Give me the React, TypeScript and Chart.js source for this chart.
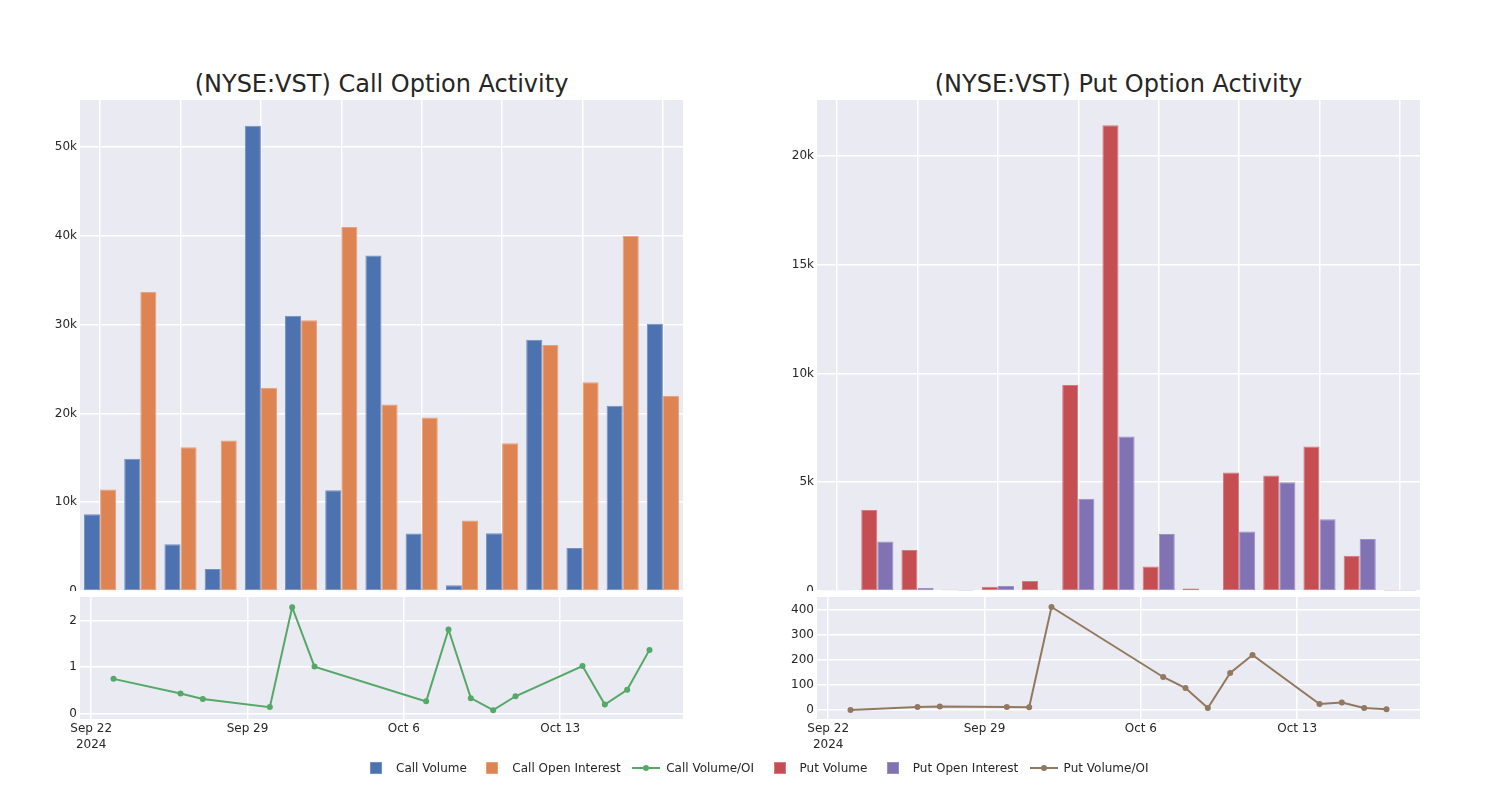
import React, { useEffect, useRef } from "react";
import { Chart, registerables } from "chart.js";
Chart.register(...registerables);

// ---------- data ----------
const tradeDates = [
  "2024-09-23", "2024-09-26", "2024-09-27", "2024-09-30", "2024-10-01",
  "2024-10-02", "2024-10-07", "2024-10-08", "2024-10-09", "2024-10-10",
  "2024-10-11", "2024-10-14", "2024-10-15", "2024-10-16", "2024-10-17",
];
const callVolume = [8650, 14900, 5260, 2480, 52400, 31000, 11350, 37800, 6470, 640, 6500, 28300, 4850, 20860, 30100];
const callOpenInterest = [11430, 33700, 16200, 16950, 22900, 30500, 41000, 21000, 19550, 7930, 16650, 27700, 23500, 40000, 22000];
const callVolOI = [0.745, 0.43, 0.31, 0.136, 2.29, 1.01, 0.26, 1.81, 0.33, 0.07, 0.37, 1.02, 0.19, 0.51, 1.37];

const putVolume = [20, 3720, 1880, 60, 200, 460, 9470, 21410, 1130, 110, 5450, 5310, 6640, 1620, 10];
const putOpenInterest = [50, 2270, 140, 10, 230, 60, 4240, 7100, 2620, 0, 2730, 5000, 3300, 2390, 10];
const putVolOI = [0, 12, 14, 12, 11, 412, 132, 88, 8, 148, 220, 24, 30, 8, 3];

const callBarTicks = [0, 10000, 20000, 30000, 40000, 50000];
const putBarTicks = [0, 5000, 10000, 15000, 20000];
const callRatioTicks = [0, 1, 2];
const putRatioTicks = [0, 100, 200, 300, 400];
const dateTickDates = ["2024-09-22", "2024-09-29", "2024-10-06", "2024-10-13"];
const dateTickLabels: (string | string[])[] = [["Sep 22", "2024"], "Sep 29", "Oct 6", "Oct 13"];
const titles = ["(NYSE:VST) Call Option Activity", "(NYSE:VST) Put Option Activity"];
const legendNames = ["Call Volume", "Call Open Interest", "Call Volume/OI", "Put Volume", "Put Open Interest", "Put Volume/OI"];

// ---------- style ----------
const FONT = "'DejaVu Sans', sans-serif";
const TEXT = "#262626";
const BG = "#EAEAF2";
const BLUE = "#4C72B0", ORANGE = "#DD8452", GREEN = "#55A868";
const RED = "#C44E52", PURPLE = "#8172B3", BROWN = "#937860";
const EDGE: Record<string, string> = {
  [BLUE]: "#7590C2", [ORANGE]: "#E6A07A", [RED]: "#D27A7D", [PURPLE]: "#9B90C6",
};

const DAY0 = Date.parse("2024-09-22T00:00:00Z");
const toDay = (d: string) => (Date.parse(d + "T00:00:00Z") - DAY0) / 86400000;

const bgPlugin = {
  id: "areaBg",
  beforeDraw(chart: any) {
    const { ctx, chartArea: a } = chart;
    ctx.save();
    ctx.fillStyle = BG;
    ctx.fillRect(a.left, a.top, a.right - a.left, a.bottom - a.top);
    ctx.restore();
  },
};

const tickFont = { family: FONT, size: 12 };

function yAxis(min: number, max: number, ticks: number[], fmt: (v: number) => string) {
  return {
    type: "linear",
    min,
    max,
    border: { display: false },
    grid: { color: "#ffffff", lineWidth: 1.5, drawTicks: false },
    ticks: { color: TEXT, font: tickFont, padding: 3, callback: (v: number) => fmt(v) },
    afterBuildTicks: (s: any) => { s.ticks = ticks.map((v) => ({ value: v })); },
    afterFit: (s: any) => { s.width = 80; s.paddingTop = 0; s.paddingBottom = 0; },
  };
}

function barConfig(vol: number[], oi: number[], c1: string, c2: string, yMax: number, ticks: number[]) {
  const mk = (label: string, data: number[], c: string) => ({
    label, data, backgroundColor: c, borderColor: EDGE[c], borderWidth: 1, borderSkipped: false,
    barPercentage: 1.0, categoryPercentage: 0.8,
  });
  return {
    type: "bar",
    data: { labels: tradeDates, datasets: [mk("v", vol, c1), mk("oi", oi, c2)] },
    options: {
      responsive: false, animation: false, devicePixelRatio: 1,
      layout: { padding: 0, autoPadding: false },
      plugins: { legend: { display: false }, tooltip: { enabled: false }, title: { display: false } },
      scales: {
        x: {
          type: "category", offset: true,
          border: { display: false },
          grid: { offset: false, drawTicks: false, lineWidth: 1.5,
            color: (ctx: any) => (ctx.index % 2 === 0 ? "#ffffff" : "rgba(0,0,0,0)") },
          ticks: { display: false, autoSkip: false },
          afterFit: (s: any) => { s.height = 0; s.paddingLeft = 0; s.paddingRight = 0; },
        },
        y: yAxis(0, yMax, ticks, (v) => (v === 0 ? "0" : v / 1000 + "k")),
      },
    },
    plugins: [bgPlugin],
  };
}

function lineConfig(vals: number[], color: string, yMin: number, yMax: number, ticks: number[]) {
  const pts = tradeDates.map((d, i) => ({ x: toDay(d), y: vals[i] }));
  const tickVals = dateTickDates.map(toDay);
  return {
    type: "line",
    data: {
      datasets: [{
        data: pts, borderColor: color, backgroundColor: color, borderWidth: 2,
        pointRadius: 3, pointBackgroundColor: color, pointBorderWidth: 0, tension: 0,
      }],
    },
    options: {
      responsive: false, animation: false, devicePixelRatio: 1,
      layout: { padding: 0, autoPadding: false },
      plugins: { legend: { display: false }, tooltip: { enabled: false } },
      scales: {
        x: {
          type: "linear", min: -0.5, max: 26.5,
          border: { display: false },
          grid: { color: "#ffffff", lineWidth: 1.5, drawTicks: false },
          ticks: {
            color: TEXT, font: { family: FONT, size: 12, lineHeight: 1.35 }, padding: 2,
            maxRotation: 0, autoSkip: false,
            callback: (_v: number, i: number) => dateTickLabels[i],
          },
          afterBuildTicks: (s: any) => { s.ticks = tickVals.map((v) => ({ value: v })); },
          afterFit: (s: any) => { s.height = 48; s.paddingLeft = 0; s.paddingRight = 0; },
        },
        y: yAxis(yMin, yMax, ticks, (v) => String(v)),
      },
    },
    plugins: [bgPlugin],
  };
}

function ChartCanvas(props: { make: () => any; left: number; top: number; width: number; height: number }) {
  const ref = useRef<HTMLCanvasElement | null>(null);
  useEffect(() => {
    const chart = new Chart(ref.current as HTMLCanvasElement, props.make());
    return () => chart.destroy();
  }, []);
  return (
    <canvas
      ref={ref}
      width={props.width}
      height={props.height}
      style={{ position: "absolute", left: props.left, top: props.top, width: props.width, height: props.height }}
    />
  );
}

function LegendItem({ name, color, line }: { name: string; color: string; line: boolean }) {
  return (
    <div style={{ display: "flex", alignItems: "center", marginRight: 11.5 }}>
      <div style={{ width: 28, height: 12, position: "relative", marginRight: 6 }}>
        {line ? (
          <>
            <div style={{ position: "absolute", left: 0, top: 5, width: 28, height: 2, background: color }} />
            <div style={{ position: "absolute", left: 11, top: 3, width: 6, height: 6, borderRadius: 3, background: color }} />
          </>
        ) : (
          <div style={{ position: "absolute", left: 8, top: 0, width: 12, height: 12, background: color, boxSizing: "border-box", border: `1px solid ${EDGE[color]}` }} />
        )}
      </div>
      <span style={{ whiteSpace: "nowrap" }}>{name}</span>
    </div>
  );
}

export default function App() {
  const legendColors = [BLUE, ORANGE, GREEN, RED, PURPLE, BROWN];
  const legendIsLine = [false, false, true, false, false, true];
  const titleStyle = (center: number): React.CSSProperties => ({
    position: "absolute", left: center - 300, width: 600, top: 70, height: 28, lineHeight: "28px",
    textAlign: "center", fontFamily: FONT, fontSize: 24, color: TEXT, whiteSpace: "nowrap",
  });
  return (
    <div style={{ position: "absolute", left: 0, top: 0, width: 1500, height: 800, background: "#ffffff", overflow: "hidden" }}>
      <div style={titleStyle(381.5)}>{titles[0]}</div>
      <div style={titleStyle(1118.5)}>{titles[1]}</div>
      <ChartCanvas make={() => barConfig(callVolume, callOpenInterest, BLUE, ORANGE, 55300, callBarTicks)} left={0} top={100} width={683} height={491} />
      <ChartCanvas make={() => lineConfig(callVolOI, GREEN, -0.12, 2.51, callRatioTicks)} left={0} top={597} width={683} height={170} />
      <ChartCanvas make={() => barConfig(putVolume, putOpenInterest, RED, PURPLE, 22570, putBarTicks)} left={737} top={100} width={683} height={491} />
      <ChartCanvas make={() => lineConfig(putVolOI, BROWN, -36, 452, putRatioTicks)} left={737} top={597} width={683} height={170} />
      <div style={{ position: "absolute", left: 362, top: 760, height: 16, display: "flex", alignItems: "center", fontFamily: FONT, fontSize: 12, color: TEXT }}>
        {legendNames.map((n, i) => (
          <LegendItem key={n} name={n} color={legendColors[i]} line={legendIsLine[i]} />
        ))}
      </div>
    </div>
  );
}
